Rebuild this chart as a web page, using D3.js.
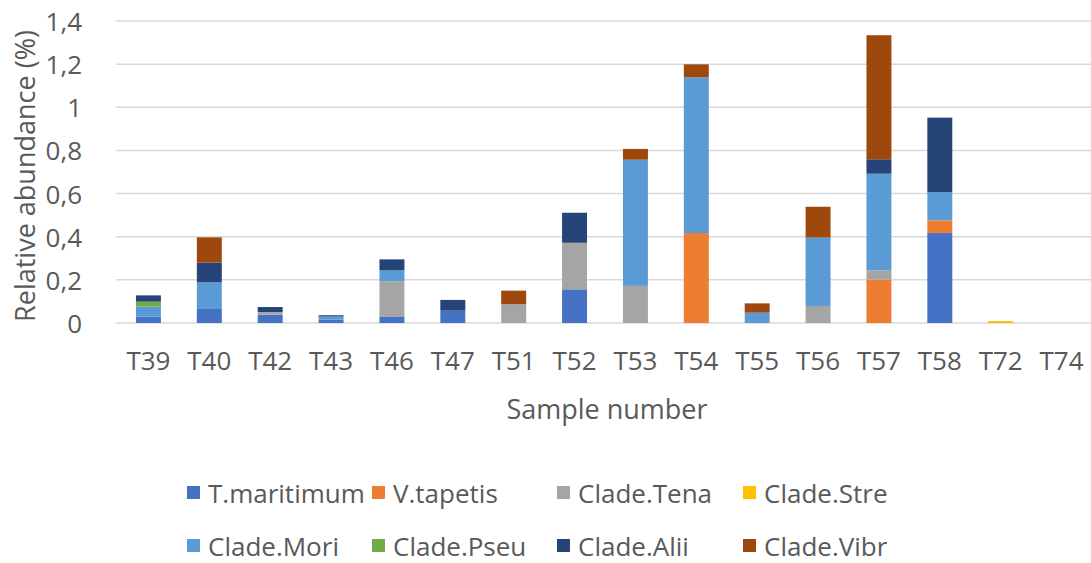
<!DOCTYPE html>
<html>
<head>
<meta charset="utf-8">
<script src="https://cdn.jsdelivr.net/npm/d3@7"></script>
<style>
  html, body { margin: 0; padding: 0; background: #fff; }
  svg text { font-family: "Open Sans", Lato, sans-serif; fill: #595959; }
</style>
</head>
<body>
<svg id="chart" width="1091" height="563"></svg>
<script>
const categories = ["T39","T40","T42","T43","T46","T47","T51","T52","T53","T54","T55","T56","T57","T58","T72","T74"];
const seriesNames = ["T.maritimum","V.tapetis","Clade.Tena","Clade.Stre","Clade.Mori","Clade.Pseu","Clade.Alii","Clade.Vibr"];
const tMaritimum = [0.029,0.065,0.038,0.015,0.028,0.057,0,0.156,0,0,0,0,0,0.417,0,0];
const vTapetis   = [0,0,0,0,0,0,0,0,0,0.417,0,0,0.201,0.059,0,0];
const cladeTena  = [0,0,0.013,0,0.165,0,0.087,0.216,0.172,0,0,0.079,0.043,0,0,0];
const cladeStre  = [0,0,0,0,0,0,0,0,0,0,0,0,0,0,0.009,0];
const cladeMori  = [0.047,0.124,0,0.015,0.051,0,0,0,0.585,0.722,0.048,0.317,0.448,0.13,0,0];
const cladePseu  = [0.023,0,0,0,0,0,0,0,0,0,0,0,0,0,0,0];
const cladeAlii  = [0.029,0.091,0.023,0.006,0.051,0.05,0,0.139,0,0,0,0,0.067,0.346,0,0];
const cladeVibr  = [0,0.117,0,0,0,0,0.063,0,0.05,0.06,0.043,0.143,0.575,0,0,0];
const colors = ["#4472C4","#ED7D31","#A5A5A5","#FFC000","#5B9BD5","#70AD47","#264478","#9E480E"];
const yTickValues = [0,0.2,0.4,0.6,0.8,1,1.2,1.4];
const yTickLabels = ["0","0,2","0,4","0,6","0,8","1","1,2","1,4"];
const yTitle = "Relative abundance (%)";
const xTitle = "Sample number";

const seriesValues = [tMaritimum,vTapetis,cladeTena,cladeStre,cladeMori,cladePseu,cladeAlii,cladeVibr];
const table = categories.map((c,i) => {
  const row = {cat: c};
  seriesNames.forEach((s,j) => row[s] = seriesValues[j][i]);
  return row;
});

const svg = d3.select("#chart");
const x = d3.scaleBand().domain(categories).range([118, 1092]).paddingInner(0.59).paddingOuter(0.295);
const y = d3.scaleLinear().domain([0,1.4]).range([323, 21]);

// gridlines (including zero axis line)
svg.append("g").selectAll("line").data(yTickValues).join("line")
  .attr("x1", 116).attr("x2", 1091)
  .attr("y1", d => y(d)).attr("y2", d => y(d))
  .attr("stroke", "#d9d9d9").attr("stroke-width", 1.5);

// y tick labels
svg.append("g").selectAll("text").data(yTickValues).join("text")
  .attr("x", 82).attr("y", d => y(d) + 10)
  .attr("text-anchor", "end")
  .style("font-size", "26px")
  .text((d,i) => yTickLabels[i]);

// stacked bars
const stack = d3.stack().keys(seriesNames);
const stacked = stack(table);
svg.append("g").selectAll("g").data(stacked).join("g")
  .attr("fill", (d,i) => colors[i])
  .selectAll("rect").data(d => d.filter(p => p[1] - p[0] > 0)).join("rect")
  .attr("x", d => x(d.data.cat))
  .attr("width", x.bandwidth())
  .attr("y", d => y(d[1]))
  .attr("height", d => y(d[0]) - y(d[1]));

// x tick labels
svg.append("g").selectAll("text").data(categories).join("text")
  .attr("x", d => x(d) + x.bandwidth()/2).attr("y", 370)
  .attr("text-anchor", "middle")
  .style("font-size", "26px")
  .text(d => d);

// axis titles
svg.append("text").attr("transform", "translate(35,176) rotate(-90)")
  .attr("text-anchor", "middle").style("font-size", "27px").text(yTitle);
svg.append("text").attr("x", 607).attr("y", 419)
  .attr("text-anchor", "middle").style("font-size", "27px").text(xTitle);

// legend
const legCols = [187, 372, 557, 743];
const legRows = [503, 556];
const leg = svg.append("g").selectAll("g").data(seriesNames).join("g")
  .attr("transform", (d,i) => `translate(${legCols[i % 4]},${legRows[Math.floor(i / 4)]})`);
leg.append("rect").attr("x", 0).attr("y", -17).attr("width", 13).attr("height", 13)
  .attr("fill", (d,i) => colors[i]);
leg.append("text").attr("x", 21).attr("y", 0).style("font-size", "26px").text(d => d);
</script>
</body>
</html>
